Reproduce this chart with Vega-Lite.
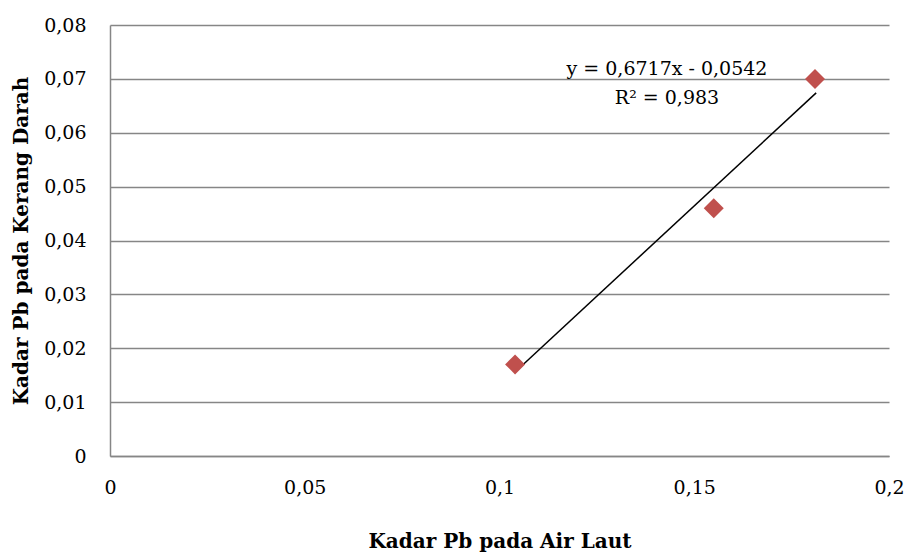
{
  "$schema": "https://vega.github.io/schema/vega-lite/v6.json",
  "width": 779,
  "height": 431,
  "autosize": {"type": "none"},
  "padding": {"left": 110, "top": 25, "right": 19, "bottom": 98},
  "background": "white",
  "config": {
    "view": {"stroke": null},
    "font": "DejaVu Serif"
  },
  "datasets": {
    "points": [
      {"air": 0.104, "kerang": 0.017},
      {"air": 0.155, "kerang": 0.046},
      {"air": 0.181, "kerang": 0.070}
    ],
    "trend": [
      {"air": 0.104, "kerang": 0.0156},
      {"air": 0.1813, "kerang": 0.0674}
    ],
    "labels": [
      {"air": 0.143, "kerang": 0.0718, "text": "y = 0,6717x - 0,0542"},
      {"air": 0.143, "kerang": 0.06645, "text": "R² = 0,983"}
    ]
  },
  "layer": [
    {
      "data": {"name": "trend"},
      "mark": {"type": "line", "color": "black", "strokeWidth": 1.5},
      "encoding": {
        "x": {
          "field": "air", "type": "quantitative",
          "scale": {"domain": [0, 0.2], "nice": false, "zero": true},
          "axis": {
            "title": "Kadar Pb pada Air Laut",
            "titleFont": "DejaVu Serif", "titleFontSize": 20, "titleFontWeight": "bold", "titleColor": "black",
            "titlePadding": 34,
            "values": [0, 0.05, 0.1, 0.15, 0.2],
            "labelExpr": "replace(format(datum.value, '~g'), '.', ',')",
            "labelFont": "DejaVu Serif", "labelFontSize": 19, "labelColor": "black",
            "labelPadding": 22,
            "ticks": false, "grid": false,
            "domainColor": "#868686", "domainWidth": 1.5,
            "labelFlush": false, "labelOverlap": false
          }
        },
        "y": {
          "field": "kerang", "type": "quantitative",
          "scale": {"domain": [0, 0.08], "nice": false, "zero": true},
          "axis": {
            "title": "Kadar Pb pada Kerang Darah",
            "titleFont": "DejaVu Serif", "titleFontSize": 20, "titleFontWeight": "bold", "titleColor": "black",
            "titlePadding": 12,
            "values": [0, 0.01, 0.02, 0.03, 0.04, 0.05, 0.06, 0.07, 0.08],
            "labelExpr": "replace(format(datum.value, '~g'), '.', ',')",
            "labelFont": "DejaVu Serif", "labelFontSize": 19, "labelColor": "black",
            "labelPadding": 24,
            "ticks": false, "grid": true,
            "gridColor": "#868686", "gridWidth": 1.5,
            "domainColor": "#868686", "domainWidth": 1.5,
            "labelFlush": false, "labelOverlap": false
          }
        }
      }
    },
    {
      "data": {"name": "points"},
      "mark": {"type": "point", "shape": "diamond", "filled": true, "size": 400, "color": "#C0504D", "opacity": 1},
      "encoding": {
        "x": {"field": "air", "type": "quantitative"},
        "y": {"field": "kerang", "type": "quantitative"}
      }
    },
    {
      "data": {"name": "labels"},
      "mark": {"type": "text", "font": "DejaVu Serif", "fontSize": 19, "color": "black", "align": "center", "baseline": "middle"},
      "encoding": {
        "x": {"field": "air", "type": "quantitative"},
        "y": {"field": "kerang", "type": "quantitative"},
        "text": {"field": "text"}
      }
    }
  ]
}
